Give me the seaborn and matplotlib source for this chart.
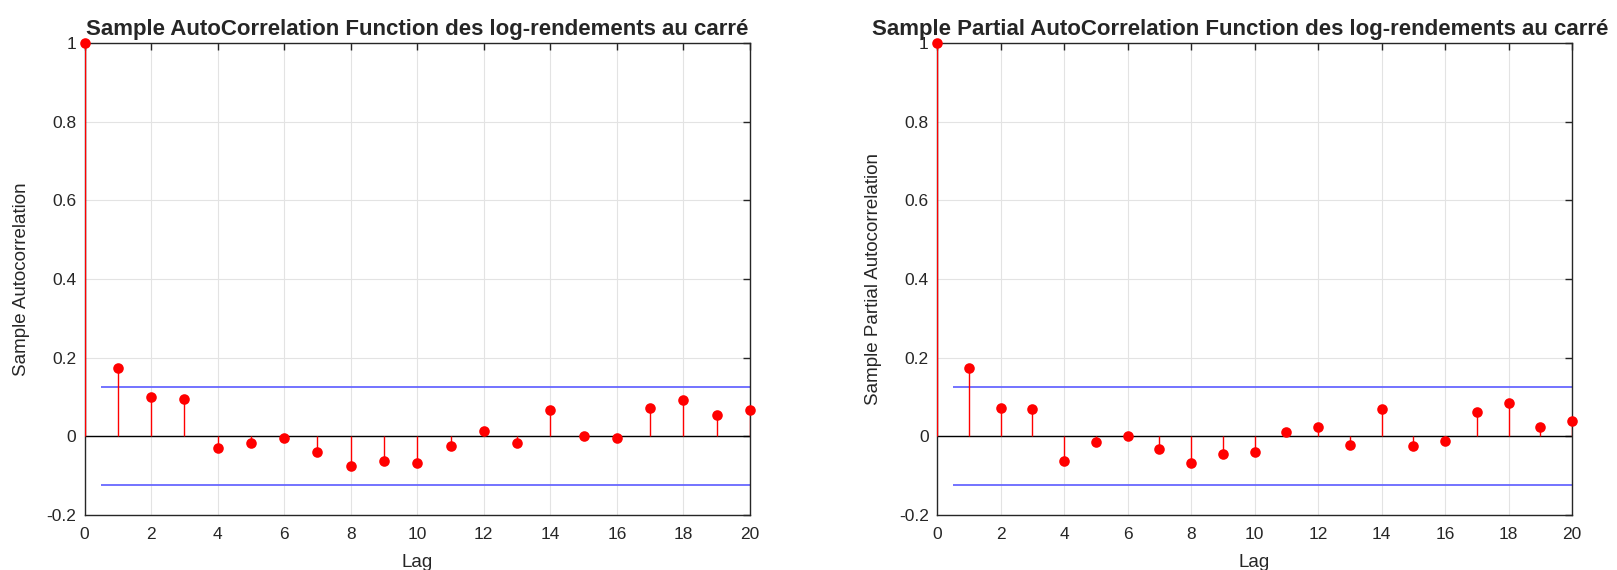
import matplotlib
matplotlib.use('Agg')
import matplotlib.pyplot as plt
import seaborn as sns
import pandas as pd

lags = list(range(21))
acf_vals = [1.0, 0.174, 0.100, 0.095, -0.029, -0.018, -0.005, -0.039, -0.076, -0.063,
            -0.068, -0.024, 0.013, -0.016, 0.068, 0.001, -0.004, 0.071, 0.092, 0.055, 0.066]
pacf_vals = [1.0, 0.174, 0.071, 0.069, -0.063, -0.015, 0.002, -0.031, -0.068, -0.044,
             -0.041, 0.012, 0.025, -0.022, 0.070, -0.025, -0.013, 0.062, 0.086, 0.024, 0.039]
bound = 0.125

titles = ["Sample AutoCorrelation Function des log-rendements au carré",
          "Sample Partial AutoCorrelation Function des log-rendements au carré"]
ylabels = ["Sample Autocorrelation", "Sample Partial Autocorrelation"]

sns.set_style("white")
plt.rcParams['font.family'] = ['Liberation Sans', 'DejaVu Sans']

fig = plt.figure(figsize=(16.17, 5.70), dpi=100)
ax1 = fig.add_axes([0.0523, 0.0965, 0.4115, 0.828])
ax2 = fig.add_axes([0.5795, 0.0965, 0.3927, 0.828])

def stem_plot(ax, vals, title, ylabel, title_x=0.5):
    df = pd.DataFrame({'Lag': lags, 'val': vals})
    ax.vlines(df['Lag'], 0, df['val'], color='red', lw=1, zorder=3)
    sns.scatterplot(data=df, x='Lag', y='val', ax=ax, color='red', s=58,
                    edgecolor='red', linewidth=0, zorder=4, clip_on=False)
    ax.axhline(0, color='black', lw=1, zorder=2)
    ax.hlines([bound, -bound], 0.5, 20, color='#6868ff', lw=1.3, zorder=2)
    ax.set_xlim(0, 20)
    ax.set_ylim(-0.2, 1)
    ax.set_xticks(range(0, 21, 2))
    ax.set_yticks([-0.2, 0, 0.2, 0.4, 0.6, 0.8, 1])
    ax.set_yticklabels(['-0.2', '0', '0.2', '0.4', '0.6', '0.8', '1'])
    ax.grid(True, color='#e3e3e3', lw=0.8)
    ax.set_axisbelow(True)
    ax.tick_params(direction='in', length=5, width=1, top=True, right=True,
                   labelsize=12.5, colors='#262626', labelcolor='#262626', pad=6)
    ax.tick_params(axis='x', pad=9)
    for s in ax.spines.values():
        s.set_color('#262626')
        s.set_linewidth(1)
    ax.set_title(title, fontsize=16, fontweight='bold', pad=6, x=title_x)
    ax.set_xlabel('Lag', fontsize=13.5, color='#262626', labelpad=8)
    ax.set_ylabel(ylabel, fontsize=13.5, color='#262626', labelpad=12)

stem_plot(ax1, acf_vals, titles[0], ylabels[0])
stem_plot(ax2, pacf_vals, titles[1], ylabels[1], title_x=0.477)

plt.savefig('out.png', dpi=100)
